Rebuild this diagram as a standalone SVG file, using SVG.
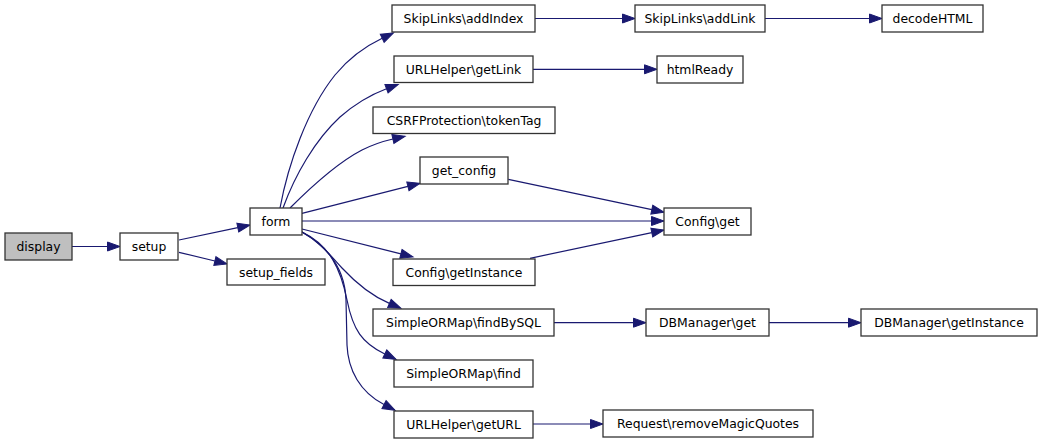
<svg xmlns="http://www.w3.org/2000/svg" width="1043" height="443" viewBox="0 0 1043 443">
<defs>
<style>
.n rect{fill:#ffffff;stroke:#333333;stroke-width:1.3}
.n.cur rect{fill:#bfbfbf}
.n text{font-family:"DejaVu Sans","Liberation Sans",sans-serif;font-size:12.4px;fill:#000;text-anchor:middle}
.e path{fill:none;stroke:#191970;stroke-width:1.2;marker-end:url(#ah)}
</style>
<marker id="ah" markerUnits="userSpaceOnUse" markerWidth="14" markerHeight="11" refX="0" refY="5.5" orient="auto" overflow="visible">
<path d="M0,1 L12.5,5.5 L0,10 z" fill="#191970" stroke="#191970" stroke-width="1"/>
</marker>
</defs>
<rect width="1043" height="443" fill="#ffffff"/>
<g id="edges" class="e">
<path d="M72,246.5 L107.5,246.5"/>
<path d="M179,240 L237.8,227.6"/>
<path d="M179,252.3 L214.9,261"/>
<path d="M280,208 C288,165 307,110 335,75 C349,58 366,46 382.2,38.3"/>
<path d="M283,208 C295,175 315,140 340,117 C355,104 370,95 386.5,88.8"/>
<path d="M290,208 C308,190 335,164 362,150 C372,145 382,141.5 392.9,139"/>
<path d="M302,213.3 L407.9,186.4"/>
<path d="M302,221 L651.5,221"/>
<path d="M302,229 L400.9,253.9"/>
<path d="M302,232 C320,242 330,255 342,268 C355,282 372,296 389.4,303.4"/>
<path d="M302,232 C330,245 341,270 347,300 C353,330 362,343 384.8,354"/>
<path d="M302,232 C330,248 345,270 346,300 L347,345 C348,370 360,392 384,404.5"/>
<path d="M508.3,179.3 L651.8,209.7"/>
<path d="M530,258.3 L651.8,232.6"/>
<path d="M535,18.5 L622.5,18.5"/>
<path d="M765,18.5 L869.5,18.5"/>
<path d="M533,69.3 L644.5,69.3"/>
<path d="M554,322.7 L633.5,322.7"/>
<path d="M769,322.7 L848.5,322.7"/>
<path d="M533,424 L590.5,424"/>
</g>
<g id="display" class="n cur"><rect x="5" y="233" width="67" height="27"/><text x="38.5" y="251">display</text></g>
<g id="setup" class="n"><rect x="120" y="233" width="58" height="27"/><text x="149" y="251">setup</text></g>
<g id="form" class="n"><rect x="250" y="208" width="52" height="27"/><text x="276" y="226">form</text></g>
<g id="setup_fields" class="n"><rect x="227" y="259" width="98" height="26"/><text x="276" y="276.5">setup_fields</text></g>
<g id="addIndex" class="n"><rect x="392" y="5" width="143" height="27"/><text x="463.5" y="23">SkipLinks\addIndex</text></g>
<g id="getLink" class="n"><rect x="394" y="56" width="139" height="26.5"/><text x="463.5" y="73.5">URLHelper\getLink</text></g>
<g id="tokenTag" class="n"><rect x="373" y="107" width="182" height="26.5"/><text x="464" y="124.5">CSRFProtection\tokenTag</text></g>
<g id="get_config" class="n"><rect x="420" y="157" width="88" height="27"/><text x="464" y="175">get_config</text></g>
<g id="getInstance" class="n"><rect x="393" y="259" width="142" height="26.5"/><text x="464" y="276.5">Config\getInstance</text></g>
<g id="findBySQL" class="n"><rect x="373" y="309" width="181" height="27"/><text x="463.5" y="327">SimpleORMap\findBySQL</text></g>
<g id="find" class="n"><rect x="394" y="360" width="139" height="27"/><text x="463.5" y="378">SimpleORMap\find</text></g>
<g id="getURL" class="n"><rect x="394" y="411" width="139" height="27"/><text x="463.5" y="429">URLHelper\getURL</text></g>
<g id="addLink" class="n"><rect x="635" y="5" width="130" height="27"/><text x="700" y="23">SkipLinks\addLink</text></g>
<g id="decodeHTML" class="n"><rect x="882" y="5" width="101" height="27"/><text x="932.5" y="23">decodeHTML</text></g>
<g id="htmlReady" class="n"><rect x="657" y="56" width="86" height="27"/><text x="700" y="74">htmlReady</text></g>
<g id="config_get" class="n"><rect x="664" y="208" width="87" height="27"/><text x="707.5" y="226">Config\get</text></g>
<g id="dbm_get" class="n"><rect x="646" y="309" width="123" height="27"/><text x="707.5" y="327">DBManager\get</text></g>
<g id="dbm_getInstance" class="n"><rect x="861" y="309" width="176" height="27"/><text x="949" y="327">DBManager\getInstance</text></g>
<g id="removeMagicQuotes" class="n"><rect x="603" y="410" width="210" height="27"/><text x="708" y="428">Request\removeMagicQuotes</text></g>
</svg>
